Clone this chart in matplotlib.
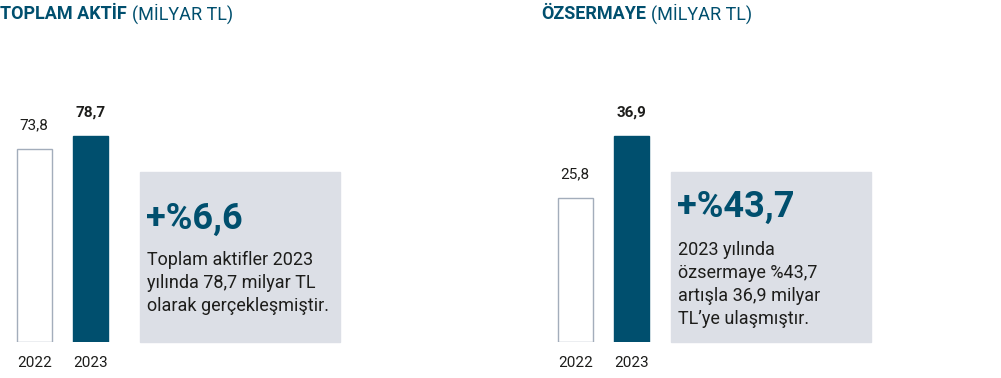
import matplotlib.pyplot as plt
from matplotlib.patches import Rectangle

plt.rcParams['font.family'] = ['Roboto', 'DejaVu Sans']

# data
years = ['2022', '2023']
aktif = [73.8, 78.7]
ozsermaye = [25.8, 36.9]
aktif_labels = ['73,8', '78,7']
ozsermaye_labels = ['25,8', '36,9']

titles = ['TOPLAM AKTİF', 'ÖZSERMAYE']
subtitle = '(MİLYAR TL)'
changes = ['+%6,6', '+%43,7']
notes = [['Toplam aktifler 2023', 'yılında 78,7 milyar TL', 'olarak gerçekleşmiştir.'],
         ['2023 yılında', 'özsermaye %43,7', 'artışla 36,9 milyar', 'TL’ye ulaşmıştır.']]

TEAL = '#004f6e'
EDGE = '#a3adbb'
BOX = '#dcdfe6'
TXT = '#1d1d1b'

W, H = 1001, 378
fig = plt.figure(figsize=(W / 100, H / 100), dpi=100)


def fx(x):
    return x / W


def fy(y):
    return 1 - y / H


def panel(x0, values, labels, title, change, note, box_x, num_y, note_y):
    # bar axes: bottom at y=342, max bar 206 px tall
    ax = fig.add_axes([fx(x0), fy(342), fx(130), 230 / H])
    vmax = max(values)
    ax.set_ylim(0, vmax * 230 / 206)
    ax.set_xlim(-17.5 / 56 - 0.3, -17.5 / 56 - 0.3 + 130 / 56)
    bars = ax.bar([0, 1], values, width=0.625,
                  color=['white', TEAL], edgecolor=[EDGE, TEAL], linewidth=1)
    for i, (b, lab) in enumerate(zip(bars, labels)):
        ax.annotate(lab, (b.get_x() + b.get_width() / 2, b.get_height()),
                    xytext=(0, 17), textcoords='offset points',
                    ha='center', va='center', fontsize=11, color=TXT,
                    fontweight='bold' if i == 1 else 'normal')
    ax.set_xticks([0, 1], years)
    ax.tick_params(length=0, pad=10, labelsize=11, labelcolor=TXT)
    ax.set_yticks([])
    for s in ax.spines.values():
        s.set_visible(False)
    ax.patch.set_alpha(0)

    # title
    t = fig.text(fx(x0), fy(14), title, fontsize=13, fontweight='bold',
                 color=TEAL, va='center', ha='left')
    fig.canvas.draw()
    bb = t.get_window_extent()
    fig.text(bb.x1 / W + fx(5), fy(14), subtitle, fontsize=13,
             color=TEAL, va='center', ha='left')

    # box
    fig.add_artist(Rectangle((fx(box_x), fy(342)), fx(200), 170 / H,
                             transform=fig.transFigure, color=BOX, zorder=0))
    fig.text(fx(box_x + 6), fy(num_y), change, fontsize=26, fontweight='bold',
             color=TEAL, va='center', ha='left')
    for i, line in enumerate(note):
        fig.text(fx(box_x + 7), fy(note_y + 23 * i), line, fontsize=13,
                 color=TXT, va='center', ha='left')


panel(0, aktif, aktif_labels, titles[0], changes[0], notes[0], 140, 219, 260)
panel(541, ozsermaye, ozsermaye_labels, titles[1], changes[1], notes[1], 671, 207, 250)

fig.savefig('out.png', dpi=100)
